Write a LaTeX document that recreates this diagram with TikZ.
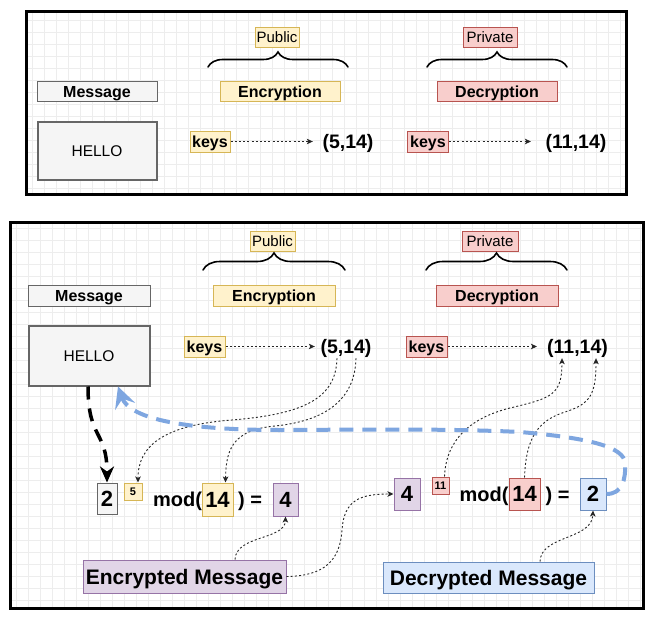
\documentclass[tikz,border=0pt]{standalone}
\usepackage{fontspec}
\setmainfont{Liberation Sans}
\usetikzlibrary{arrows.meta,decorations.pathreplacing}
\definecolor{yfill}{HTML}{FFF2CC}\definecolor{ydraw}{HTML}{D6B656}
\definecolor{rfill}{HTML}{F8CECC}\definecolor{rdraw}{HTML}{B85450}
\definecolor{pfill}{HTML}{E1D5E7}\definecolor{pdraw}{HTML}{9673A6}
\definecolor{bfill}{HTML}{DAE8FC}\definecolor{bdraw}{HTML}{6C8EBF}
\definecolor{gfill}{HTML}{F5F5F5}\definecolor{gdraw}{HTML}{666666}
\definecolor{flow}{HTML}{7EA6E0}
\newcommand\myfs[1]{\fontsize{#1}{#1}\selectfont}
\tikzset{
  base/.style={inner sep=0pt, align=center},
  box/.style={base, draw, line width=1pt},
  ybox/.style={box, fill=yfill, draw=ydraw},
  rbox/.style={box, fill=rfill, draw=rdraw},
  pbox/.style={box, fill=pfill, draw=pdraw},
  bbox/.style={box, fill=bfill, draw=bdraw},
  gbox/.style={box, fill=gfill, draw=gdraw},
  fkey/.style={font=\myfs{15}, text height=13pt, text depth=3pt},
  flab/.style={font=\myfs{16}\bfseries, text height=14pt, text depth=3pt},
  fhello/.style={font=\myfs{15.5}, text height=14pt, text depth=3pt},
  fval/.style={font=\myfs{19.5}\bfseries, text height=17pt, text depth=4pt, inner ysep=1pt},
  fmod/.style={font=\myfs{20}\bfseries, text height=18pt, text depth=4pt},
  fnum/.style={font=\myfs{22}\bfseries, text height=19pt, text depth=4pt},
  fsmall/.style={font=\myfs{11}\bfseries, text height=10pt, text depth=2pt},
  fbig/.style={font=\myfs{21}\bfseries, text height=19pt, text depth=4pt},
  gridl/.style={black!7, line width=0.5pt},
  frame/.style={line width=3pt},
  bracestyle/.style={decorate, line width=1.6pt, line cap=round},
  dotarr/.style={black!85, line width=0.9pt, dash pattern=on 2pt off 2.2pt,
     -{Stealth[length=6pt,width=5.5pt,inset=1.5pt]}},
  blkdash/.style={black, line width=3.5pt, dash pattern=on 13pt off 9pt,
     -{Stealth[length=16pt,width=14pt,inset=5pt]}},
  bluedash/.style={draw=flow, line width=4pt, dash pattern=on 14pt off 9pt,
     -{Stealth[length=21pt,width=21pt,inset=8pt]}},
}
\begin{document}
\begin{tikzpicture}[x=1pt,y=-1pt]
\useasboundingbox (0,0) rectangle (651,618);
\fill[white] (0,0) rectangle (651,618);
% grids
\foreach \x in {32,44,...,620} \draw[gridl] (\x,13.5) -- (\x,192.5);
\foreach \y in {20,32,...,188} \draw[gridl] (27.5,\y) -- (624.5,\y);
\foreach \x in {16,28,...,640} \draw[gridl] (\x,223.5) -- (\x,606.5);
\foreach \y in {228,240,...,604} \draw[gridl] (11.5,\y) -- (641.5,\y);
% frames
\draw[frame] (26,12) rectangle (626,194);
\draw[frame] (10,222) rectangle (643,608);

% ---------- top panel ----------
\node[ybox, fkey, minimum width=44pt, minimum height=20pt] (pub1) at (277,38) {Public};
\node[rbox, fkey, minimum width=54pt, minimum height=20pt] (priv1) at (490,38) {Private};
\draw[bracestyle, decoration={brace, amplitude=15pt}] (208,67) -- (348,67);
\draw[bracestyle, decoration={brace, amplitude=15pt}] (427,67) -- (567,67);
\node[gbox, flab, minimum width=120pt, minimum height=20pt] (msg1) at (97,92) {Message};
\node[ybox, flab, minimum width=120pt, minimum height=20pt] (enc1) at (280,92) {Encryption};
\node[rbox, flab, minimum width=120pt, minimum height=20pt] (dec1) at (497,92) {Decryption};
\node[gbox, fhello, line width=2pt, minimum width=119pt, minimum height=58pt] (hello1) at (97,150.5) {HELLO};
\node[ybox, flab, minimum width=40pt, minimum height=21pt] (keys1) at (210,141.5) {keys};
\node[base, fval] (k1val) at (348,141.5) {(5,14)};
\node[rbox, flab, minimum width=41pt, minimum height=21pt] (keys2) at (428,141.5) {keys};
\node[base, fval] (k2val) at (576,141.5) {(11,14)};
\draw[dotarr, shorten >=9.5pt] (keys1.east) -- (k1val.west);
\draw[dotarr, shorten >=14.5pt] (keys2.east) -- (k2val.west);

% ---------- bottom panel ----------
\node[ybox, fkey, minimum width=45pt, minimum height=20pt] (pub2) at (272.5,241) {Public};
\node[rbox, fkey, minimum width=56pt, minimum height=20pt] (priv2) at (490,241) {Private};
\draw[bracestyle, decoration={brace, amplitude=17pt}] (203,270) -- (345,270);
\draw[bracestyle, decoration={brace, amplitude=17pt}] (426,270) -- (567,270);
\node[gbox, flab, minimum width=122pt, minimum height=21pt] (msg2) at (89,295.5) {Message};
\node[ybox, flab, minimum width=122pt, minimum height=21pt] (enc2) at (274,295.5) {Encryption};
\node[rbox, flab, minimum width=122pt, minimum height=21pt] (dec2) at (497,295.5) {Decryption};
\node[gbox, fhello, line width=2pt, minimum width=121pt, minimum height=60pt] (hello2) at (89,355.5) {HELLO};
\node[ybox, flab, minimum width=41pt, minimum height=21pt] (keys3) at (204.5,346.5) {keys};
\node[base, fval] (k3val) at (346,346.5) {(5,14)};
\node[rbox, flab, minimum width=41pt, minimum height=21pt] (keys4) at (426.5,346.5) {keys};
\node[base, fval] (k4val) at (577.5,346.5) {(11,14)};
\draw[dotarr, shorten >=5.5pt] (keys3.east) -- (k3val.west);
\draw[dotarr, shorten >=10pt] (keys4.east) -- (k4val.west);

% left equation
\node[gbox, fnum, minimum width=20pt, minimum height=31pt] (two1) at (107,498.5) {2};
\node[ybox, fsmall, minimum width=18pt, minimum height=17pt] (five) at (133,491.5) {5};
\node[base, fmod] (mod1) at (177.5,499) {mod(};
\node[ybox, fnum, minimum width=31pt, minimum height=33pt] (f14a) at (217.5,499.5) {14};
\node[base, fmod] (eq1) at (250,499) {) =};
\node[pbox, fnum, minimum width=25pt, minimum height=33pt] (four1) at (285.5,499.5) {4};

% right equation
\node[pbox, fnum, minimum width=26pt, minimum height=32pt] (four2) at (407,494) {4};
\node[rbox, fsmall, minimum width=17pt, minimum height=17pt] (eleven) at (440.5,485.5) {11};
\node[base, fmod] (mod2) at (484,494) {mod(};
\node[rbox, fnum, minimum width=31pt, minimum height=32pt] (f14b) at (524.5,494) {14};
\node[base, fmod] (eq2) at (557.5,494) {) =};
\node[bbox, fnum, minimum width=26pt, minimum height=32pt] (two2) at (593,494) {2};

% messages
\node[pbox, fbig, minimum width=203pt, minimum height=33pt] (encm) at (184.5,576.5) {Encrypted Message};
\node[bbox, fbig, minimum width=211pt, minimum height=31pt] (decm) at (488.5,577.5) {Decrypted Message};

% dotted connectors
\draw[dotarr] ([xshift=-9pt]k3val.south) .. controls (336,398) and (305,414) .. (232,420)
   .. controls (165,425) and (138,445) .. ([xshift=5pt]five.north);
\draw[dotarr] ([xshift=10pt]k3val.south) .. controls (355,400) and (325,421) .. (275,426)
   .. controls (232,430) and (226,450) .. ([xshift=8pt]f14a.north);
\draw[dotarr] ([xshift=4pt]eleven.north) .. controls (446,440) and (470,418) .. (510,408)
   .. controls (552,398) and (562,395) .. ([xshift=-15.5pt]k4val.south);
\draw[dotarr] (f14b.north) .. controls (526,435) and (540,420) .. (565,412)
   .. controls (590,404) and (596,395) .. ([xshift=18.5pt]k4val.south);
\draw[dotarr] ([xshift=50.5pt]encm.north) .. controls (236,535) and (285,540) .. (four1.south);
\draw[dotarr] (encm.east) .. controls (325,576) and (340,560) .. (342,530)
   .. controls (344,500) and (360,494) .. (four2.west);
\draw[dotarr] ([xshift=51.5pt]decm.north) .. controls (541,535) and (592,540) .. (two2.south);

% thick dashed flows
\draw[blkdash] ([xshift=-1pt]hello2.south) .. controls (88,440) and (107,430) .. (two1.north);
\draw[bluedash] (two2.east) .. controls (622,494) and (626,480) .. (625,463)
   .. controls (624,447) and (590,438) .. (520,432)
   .. controls (440,428) and (330,430) .. (280,430)
   .. controls (190,430) and (130,420) .. ([xshift=29pt]hello2.south);
\end{tikzpicture}
\end{document}
